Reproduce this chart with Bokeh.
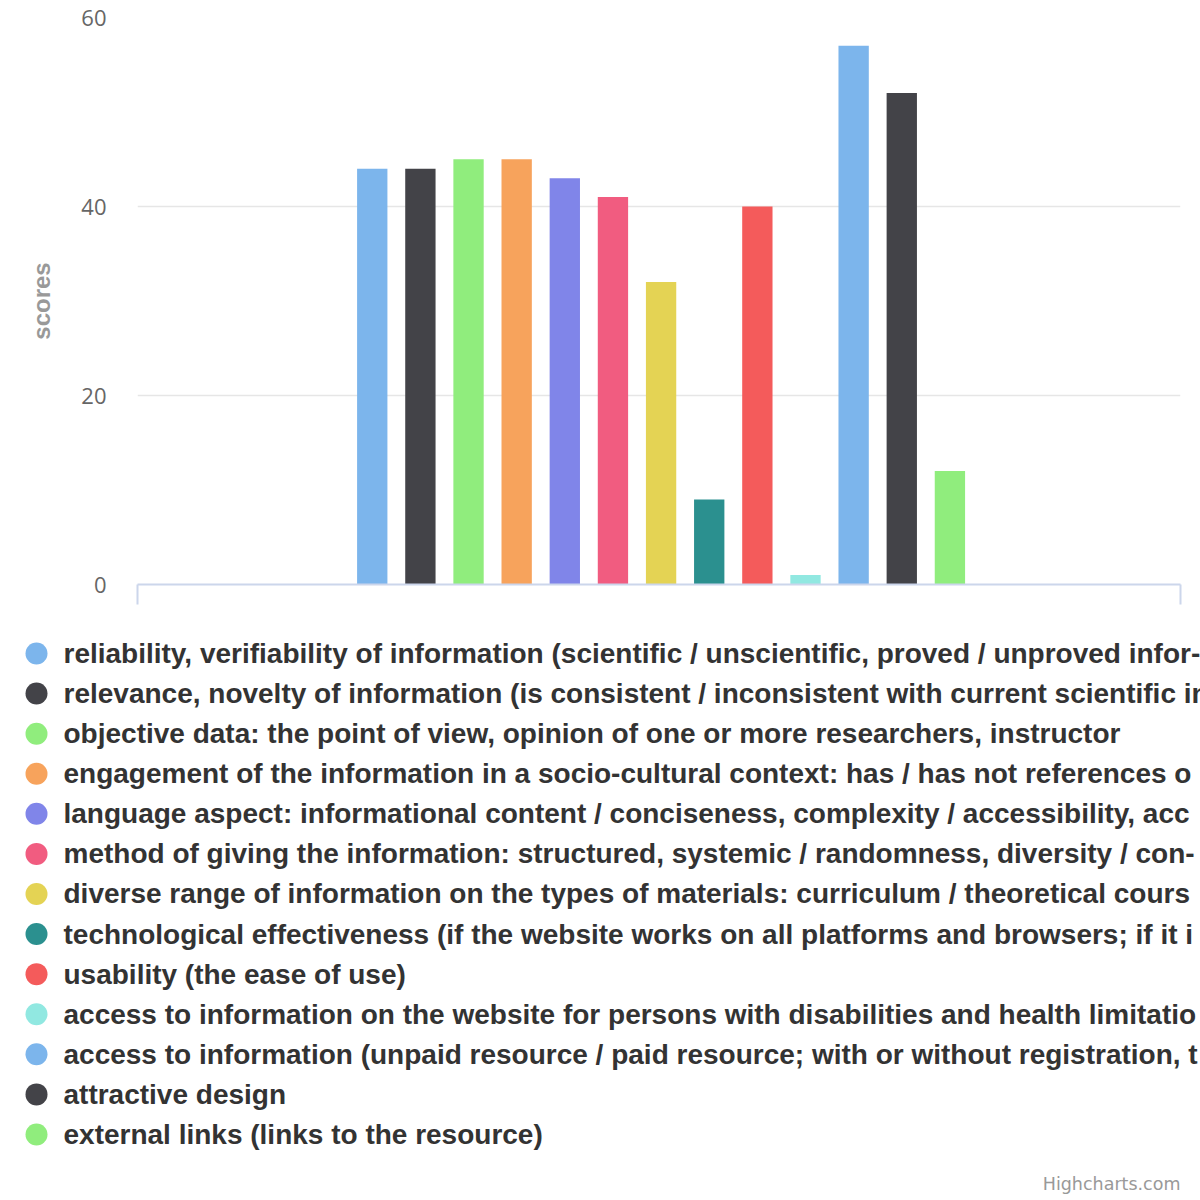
from bokeh.plotting import figure
from bokeh.models import ColumnDataSource, Range1d, FixedTicker
from bokeh.embed import file_html
from bokeh.resources import INLINE
from bokeh.core.properties import value

# ---------------- data ----------------
series_names = [
    "reliability, verifiability of information (scientific / unscientific, proved / unproved infor-",
    "relevance, novelty of information (is consistent / inconsistent with current scientific in",
    "objective data: the point of view, opinion of one or more researchers, instructor",
    "engagement of the information in a socio-cultural context: has / has not references o",
    "language aspect: informational content / conciseness, complexity / accessibility, acc",
    "method of giving the information: structured, systemic / randomness, diversity / con-",
    "diverse range of information on the types of materials: curriculum / theoretical cours",
    "technological effectiveness (if the website works on all platforms and browsers; if it i",
    "usability (the ease of use)",
    "access to information on the website for persons with disabilities and health limitatio",
    "access to information (unpaid resource / paid resource; with or without registration, t",
    "attractive design",
    "external links (links to the resource)",
]
scores = [44, 44, 45, 45, 43, 41, 32, 9, 40, 1, 57, 52, 12]
colors = ["#7cb5ec", "#434348", "#90ed7d", "#f7a35c", "#8085e9", "#f15c80",
          "#e4d354", "#2b908f", "#f45b5b", "#91e8e1", "#7cb5ec", "#434348", "#90ed7d"]
y_ticks = [0, 20, 40, 60]
y_title = "scores"
credit = "Highcharts.com"

# ---------------- chart ----------------
n = len(scores)
group_width = 0.6
slot = group_width / n
xs = [(i - (n - 1) / 2) * slot + 0.002 for i in range(n)]

src = ColumnDataSource(dict(x=xs, top=scores, color=colors, name=series_names))

W = 1200
H1 = 620
H2 = 580
FL, FR, FT, FB = 137, 1180, 17, 584   # frame edges in page pixels

p = figure(width=W, height=H1, output_backend="svg", toolbar_location=None,
           x_range=Range1d(-0.5, 0.5), y_range=Range1d(0, 60),
           min_border_left=FL, min_border_right=W - FR, min_border_top=FT,
           min_border_bottom=H1 - FB)
p.outline_line_color = None
p.background_fill_color = "white"
p.border_fill_color = "white"

p.vbar(x="x", top="top", bottom=0, width=slot * 0.63, color="color",
       line_color=None, source=src)

# y axis
p.yaxis.ticker = FixedTicker(ticks=y_ticks)
p.yaxis.axis_line_color = None
p.yaxis.major_tick_line_color = None
p.yaxis.minor_tick_line_color = None
p.yaxis.major_label_standoff = 25
p.yaxis.major_label_text_font = "Open Sans"
p.yaxis.major_label_text_font_size = "22px"
p.yaxis.major_label_text_color = "#666666"
p.yaxis.axis_label = y_title
p.yaxis.axis_label_text_font = "Liberation Sans"
p.yaxis.axis_label_text_font_style = "bold"
p.yaxis.axis_label_text_font_size = "24px"
p.yaxis.axis_label_text_color = "#999999"
p.yaxis.axis_label_standoff = 23

p.ygrid.ticker = FixedTicker(ticks=y_ticks)
p.ygrid.grid_line_color = "#e6e6e6"
p.ygrid.grid_line_width = 1.5
p.xgrid.grid_line_color = None

# x axis (category edges only, no labels)
p.xaxis.ticker = FixedTicker(ticks=[-0.5, 0.5])
p.xaxis.major_label_overrides = {-0.5: "", 0.5: ""}
p.xaxis.axis_line_color = "#ccd6eb"
p.xaxis.axis_line_width = 2
p.xaxis.major_tick_line_color = "#ccd6eb"
p.xaxis.major_tick_line_width = 2
p.xaxis.major_tick_out = 20
p.xaxis.major_tick_in = 0
p.xaxis.minor_tick_line_color = None
p.xaxis.major_label_standoff = 0

# ---------------- legend (own figure, pixel coordinates) ----------------
q = figure(width=W, height=H2, output_backend="svg", toolbar_location=None,
           x_range=Range1d(0, W), y_range=Range1d(H2, 0),
           x_axis_location=None, y_axis_location=None, min_border=0)
q.outline_line_color = None
q.grid.visible = False
q.border_fill_color = "white"
q.background_fill_color = "white"

row_h = 40.08
first_y = 653 - H1
ly = [first_y + row_h * i for i in range(n)]
lsrc = ColumnDataSource(dict(y=ly, color=colors, name=series_names))
q.scatter(x=36, y="y", size=22, color="color", line_color=None, source=lsrc)
q.text(x=63, y="y", text="name", source=lsrc,
       text_font=value("Liberation Sans"), text_font_style="bold",
       text_font_size="28px", text_color="#333333",
       text_baseline="middle", text_align="left")

q.text(x=[FR], y=[1183 - H1], text=[credit],
       text_font=value("DejaVu Sans"), text_font_size="17.5px",
       text_color="#999999", text_baseline="middle", text_align="right")

open("out.html", "w").write(file_html([p, q], INLINE))
